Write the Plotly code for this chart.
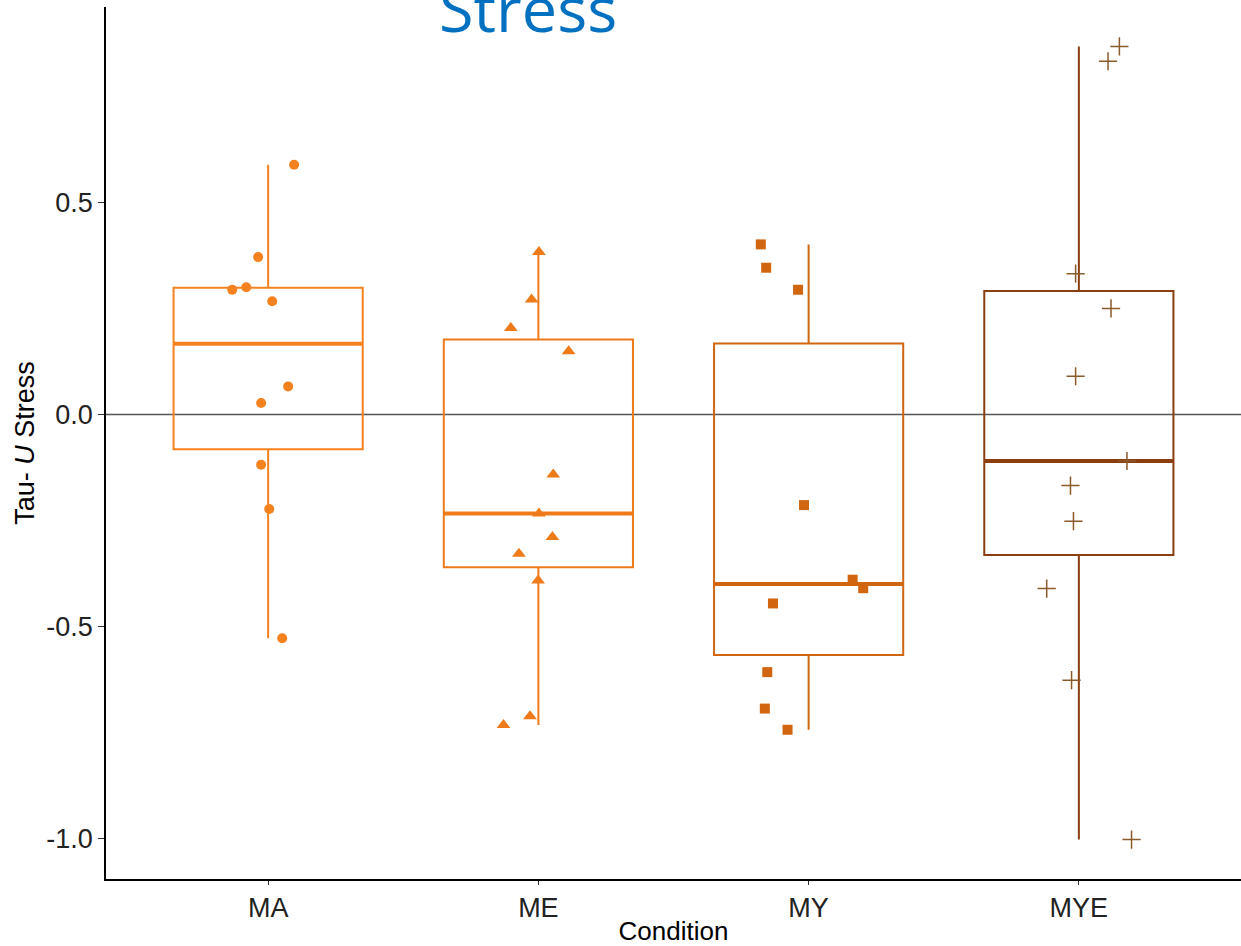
import numpy as np
import plotly.graph_objects as go

# ---------------- data ----------------
categories = ["MA", "ME", "MY", "MYE"]

ma_values = [0.589, 0.371, 0.294, 0.300, 0.267, 0.066, 0.027, -0.119, -0.223, -0.528]
ma_jitter = [0.096, -0.037, -0.133, -0.081, 0.015, 0.074, -0.026, -0.026, 0.004, 0.052]

me_values = [0.383, 0.271, 0.204, 0.149, -0.142, -0.234, -0.289, -0.329, -0.392, -0.712, -0.733]
me_jitter = [0.002, -0.025, -0.102, 0.112, 0.055, 0.002, 0.052, -0.072, -0.001, -0.031, -0.129]

my_values = [0.401, 0.346, 0.294, -0.214, -0.390, -0.410, -0.446, -0.608, -0.694, -0.744]
my_jitter = [-0.177, -0.157, -0.039, -0.017, 0.163, 0.202, -0.132, -0.153, -0.162, -0.078]

mye_values = [0.868, 0.833, 0.332, 0.250, 0.090, -0.110, -0.168, -0.252, -0.411, -0.627, -1.003]
mye_jitter = [0.150, 0.108, -0.012, 0.119, -0.012, 0.178, -0.031, -0.020, -0.119, -0.027, 0.195]

y_tickvals = [-1.0, -0.5, 0.0, 0.5]
y_ticktext = ["-1.0", "-0.5", "0.0", "0.5"]

# ---------------- styles ----------------
box_colors = ["#F5821F", "#EE7A1A", "#D2650F", "#8B3E0F"]
marker_colors = ["#F5821F", "#EE7A1A", "#D2650F", "#8B5A2B"]
symbols = ["circle", "triangle-up", "square", "cross-thin"]
marker_sizes = [10, 12, 10, 13]
box_width = 0.70

groups = [(ma_values, ma_jitter), (me_values, me_jitter),
          (my_values, my_jitter), (mye_values, mye_jitter)]

fig = go.Figure()

for i, (vals, jit) in enumerate(groups):
    v = np.array(vals)
    q1, med, q3 = np.percentile(v, [25, 50, 75])
    iqr = q3 - q1
    hi = v[v <= q3 + 1.5 * iqr].max()
    lo = v[v >= q1 - 1.5 * iqr].min()
    fig.add_trace(go.Box(
        x=[i], q1=[q1], median=[med], q3=[q3],
        lowerfence=[lo], upperfence=[hi],
        width=box_width, whiskerwidth=0,
        fillcolor="rgba(0,0,0,0)",
        line=dict(color=box_colors[i], width=2),
        boxpoints=False, showlegend=False, hoverinfo="skip",
    ))
    # thicker median line (ggplot style)
    fig.add_trace(go.Scatter(
        x=[i - box_width / 2, i + box_width / 2], y=[med, med],
        mode="lines", line=dict(color=box_colors[i], width=4),
        showlegend=False, hoverinfo="skip",
    ))
    mk = dict(symbol=symbols[i], size=marker_sizes[i], color=marker_colors[i])
    if symbols[i] == "cross-thin":
        mk["line"] = dict(color=marker_colors[i], width=1.5)
    else:
        mk["line"] = dict(width=0)
    fig.add_trace(go.Scatter(
        x=[i + j for j in jit], y=vals, mode="markers",
        marker=mk, showlegend=False,
    ))

fig.add_shape(type="line", xref="paper", yref="y", x0=0, x1=1, y0=0, y1=0,
              line=dict(color="#555555", width=1.5), layer="below")

font_family = "Liberation Sans, Arial, sans-serif"

fig.update_layout(
    width=1241, height=946,
    margin=dict(l=106, r=0, t=7, b=67),
    paper_bgcolor="white", plot_bgcolor="white",
    font=dict(family=font_family, size=27, color="#222222"),
    xaxis=dict(
        range=[-0.6, 3.6],
        tickvals=list(range(len(categories))), ticktext=categories,
        showline=True, linecolor="black", linewidth=1.5,
        ticks="outside", ticklen=4, tickcolor="#333333", tickwidth=1.2,
        tickfont=dict(size=27, color="#222222"),
        showgrid=False, zeroline=False,
        title=dict(text="Condition", font=dict(size=26, color="black"), standoff=2),
    ),
    yaxis=dict(
        range=[-1.096, 0.961],
        tickvals=y_tickvals, ticktext=y_ticktext,
        showline=True, linecolor="black", linewidth=1.5,
        ticks="outside", ticklen=6, tickcolor="#333333", tickwidth=1.2,
        tickfont=dict(size=27, color="#222222"),
        showgrid=False, zeroline=False,
        title=dict(text="Tau- <i>U</i> Stress", font=dict(size=27, color="black"), standoff=4),
    ),
    annotations=[dict(
        text="Stress", xref="paper", yref="paper", x=0.372, y=0.999,
        xanchor="center", yanchor="middle", showarrow=False,
        font=dict(family="Open Sans, sans-serif", size=63, color="#0070C0"),
    )],
)

fig.write_html("out.html")
